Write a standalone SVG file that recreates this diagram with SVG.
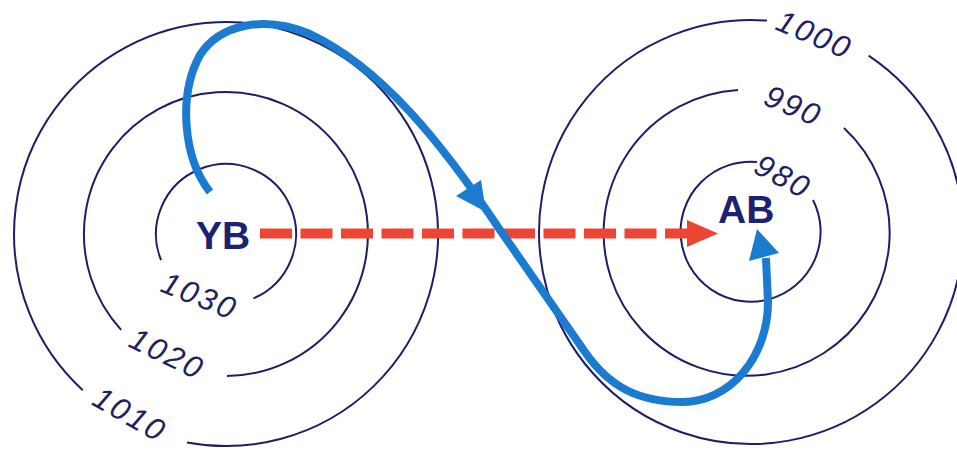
<svg xmlns="http://www.w3.org/2000/svg" width="957" height="453" viewBox="0 0 957 453">
<style>
.iso{fill:none;stroke:#1c1f66;stroke-width:2}
.lbl{font-family:"Liberation Sans",Arial,sans-serif;font-style:italic;font-size:31px;letter-spacing:2.5px;fill:#1f2163}
.ctr{font-family:"Liberation Sans",Arial,sans-serif;font-weight:bold;font-size:39px;fill:#1c2170}
.wind{fill:none;stroke:#1b7bd0;stroke-width:8;stroke-linecap:butt;stroke-linejoin:round}
</style>
<rect width="957" height="453" fill="#ffffff"/>
<g id="high">
<path class="iso" d="M161.1,260.2 A70,70 0 1 1 253.4,298.4"/>
<path class="iso" d="M121.1,329.8 A142,142 0 1 1 227,376"/>
<path class="iso" d="M82.8,390.3 A212,212 0 1 1 187,442.4"/>
<text class="ctr" x="196" y="249">YB</text>
<text class="lbl" transform="translate(159,291) rotate(22)">1030</text>
<text class="lbl" transform="translate(127,346) rotate(26)">1020</text>
<text class="lbl" transform="translate(90.5,404) rotate(30)">1010</text>
</g>
<g id="low">
<path class="iso" d="M868.6,55.6 A212,212 0 1 1 766.9,20.6"/>
<path class="iso" d="M844,128 A143,143 0 1 1 738,90"/>
<path class="iso" d="M813,200 A70,70 0 1 1 757,162"/>
<text class="ctr" x="718" y="223">AB</text>
<text class="lbl" transform="translate(774,29) rotate(23)">1000</text>
<text class="lbl" transform="translate(762,104) rotate(23)">990</text>
<text class="lbl" transform="translate(752,172) rotate(28)">980</text>
</g>
<g id="connectors">
<line x1="260" y1="233.5" x2="692" y2="233.5" stroke="#ee4433" stroke-width="10" stroke-dasharray="32 8.5"/>
<polygon points="687,220 718,233.5 687,247" fill="#ee4433"/>
<path class="wind" d="M210,192 C183,158 178,95 200,55 C220,24 265,15 310,34 C380,67 440,140 500,230 L585,352 C610,388 640,402 683,402 A85,100 0 0 0 768,302 L766,258"/>
<polygon points="456,196 481,180 486,212" fill="#1b7bd0"/>
<polygon points="757,229 749,261 779,253" fill="#1b7bd0"/>
</g>
</svg>
